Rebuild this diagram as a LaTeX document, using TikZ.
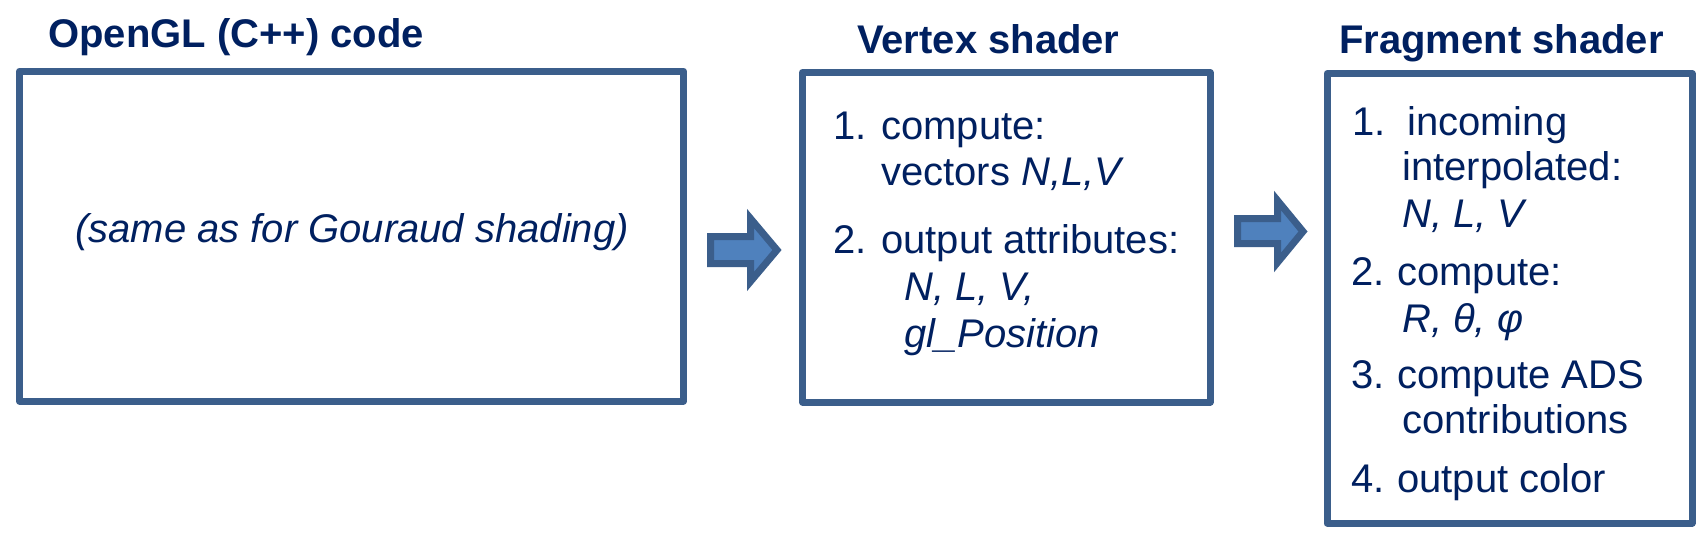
\documentclass[tikz,border=0pt]{standalone}
\usepackage{fontspec}
\setmainfont{Liberation Sans}
\definecolor{boxline}{HTML}{3B5E8B}
\definecolor{txt}{HTML}{002060}
\definecolor{arrfill}{HTML}{4F81BD}
\tikzset{
  title/.style={inner sep=0pt, anchor=base west, text=txt, font=\fontsize{40}{46}\selectfont\bfseries},
  body/.style={inner sep=0pt, anchor=base west, text=txt, font=\fontsize{40}{46}\selectfont},
  ibody/.style={body, font=\fontsize{40}{46}\selectfont\itshape},
  panel/.style={draw=boxline, line width=7pt, line join=round, fill=white, inner sep=0pt},
  blockarrow/.style={draw=boxline, fill=arrfill, line width=7pt, line join=miter}
}
\begin{document}
\begin{tikzpicture}[x=1pt, y=-1pt]
\useasboundingbox[fill=white] (0,0) rectangle (1708,542);

% titles
\node[title] (t1) at (48,47) {OpenGL (C++) code};
\node[title] (t2) at (857,53) {Vertex shader};
\node[title] (t3) at (1339,53) {Fragment shader};

% panels
\node[panel, minimum width=664pt, minimum height=330pt] (b1) at (351.5,236) {};
\node[panel, minimum width=407.5pt, minimum height=329.5pt] (b2) at (1006.25,237.25) {};
\node[panel, minimum width=365pt, minimum height=449.5pt] (b3) at (1509.5,298.25) {};

% block arrows
\draw[blockarrow] (710.5,236.5) -- (750.5,236.5) -- (750.5,218.5) -- (777,250) -- (750.5,281.5) -- (750.5,263.5) -- (710.5,263.5) -- cycle;
\draw[blockarrow] (1237.5,218.5) -- (1277.5,218.5) -- (1277.5,200.5) -- (1303,231.5) -- (1277.5,262.5) -- (1277.5,243.5) -- (1237.5,243.5) -- cycle;

% box 1 text
\node[ibody, anchor=base] (g1) at (352,242.7) {(same as for Gouraud shading)};

% vertex shader
\node[body] (v1n) at (833,139) {1.};
\node[body] (v1) at (881,139) {compute:};
\node[body] (v1b) at (881,185) {vectors \textit{N,L,V}};
\node[body] (v2n) at (833,253) {2.};
\node[body] (v2) at (881,253) {output attributes:};
\node[ibody] (v2b) at (904,300) {N, L, V,};
\node[ibody] (v2c) at (904,347) {gl\_Position};

% fragment shader
\node[body] (f1n) at (1352,135) {1.};
\node[body] (f1) at (1407,135) {incoming};
\node[body] (f1b) at (1402,180) {interpolated:};
\node[ibody] (f1c) at (1402,227) {N, L, V};
\node[body] (f2n) at (1351,285) {2.};
\node[body] (f2) at (1397,285) {compute:};
\node[ibody] (f2b) at (1402,332) {R, θ, φ};
\node[body] (f3n) at (1351,388) {3.};
\node[body] (f3) at (1397,388) {compute ADS};
\node[body] (f3b) at (1402,433) {contributions};
\node[body] (f4n) at (1351,492) {4.};
\node[body] (f4) at (1397,492) {output color};
\end{tikzpicture}
\end{document}
